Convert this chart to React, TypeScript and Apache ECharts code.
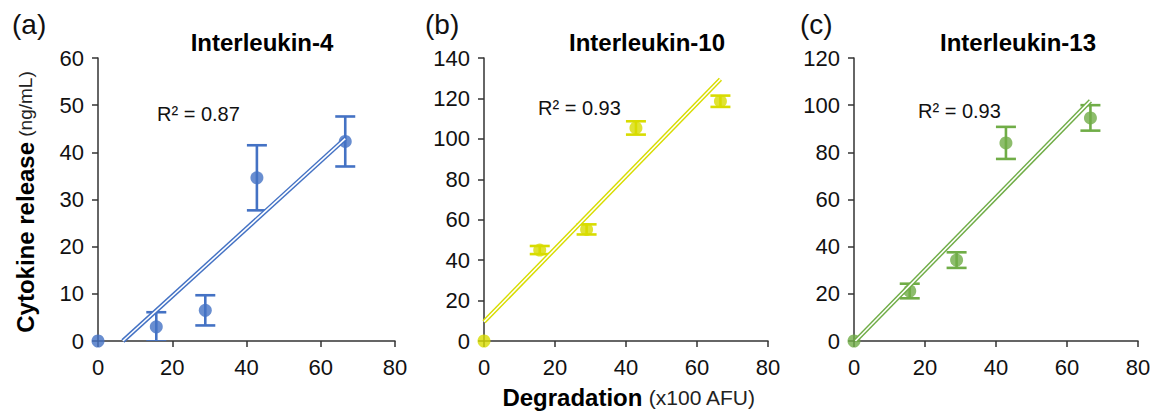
import React, { useEffect, useRef } from "react";
import * as echarts from "echarts";

const degradation = [0, 15.7, 28.9, 42.8, 66.6];

const il4Values = [0, 3.0, 6.5, 34.6, 42.3];
const il4Errors = [0, 3.1, 3.2, 6.9, 5.3];
const il4Trend = [[6.7, 0], [66.6, 42.9]];

const il10Values = [0, 45.0, 55.2, 105.4, 118.6];
const il10Errors = [0, 2.0, 2.5, 3.3, 2.8];
const il10Trend = [[0, 9.5], [66.6, 129.5]];

const il13Values = [0, 21.2, 34.3, 84.0, 94.6];
const il13Errors = [0, 3.1, 3.3, 6.8, 5.4];
const il13Trend = [[0.4, 0], [66.6, 101.8]];

const yMaxes = [60, 140, 120];
const yIntervals = [10, 20, 20];
const xTicks = { min: 0, max: 80, interval: 20 };

const panelTitles = ["Interleukin-4", "Interleukin-10", "Interleukin-13"];
const panelLetters = ["(a)", "(b)", "(c)"];
const r2Labels = ["R² = 0.87", "R² = 0.93", "R² = 0.93"];
const colors = ["#4472C4", "#D8DC00", "#70AD47"];

const FONT = "'Liberation Sans', Arial, sans-serif";
const AXIS_COLOR = "#333333";

export default function App() {
  const ref = useRef<HTMLDivElement>(null);

  useEffect(() => {
    if (!ref.current) return;
    const chart = echarts.init(ref.current, undefined, { renderer: "svg" });

    const grids = [
      { left: 98, top: 58, width: 297, height: 283 },
      { left: 484, top: 58, width: 284, height: 283 },
      { left: 854, top: 58, width: 284, height: 283 },
    ];

    const valuesSets = [il4Values, il10Values, il13Values];
    const errorSets = [il4Errors, il10Errors, il13Errors];
    const trendSets = [il4Trend, il10Trend, il13Trend];

    const xAxes = grids.map((_, i) => ({
      type: "value",
      gridIndex: i,
      min: xTicks.min,
      max: xTicks.max,
      interval: xTicks.interval,
      axisLine: { show: true, onZero: false, lineStyle: { color: AXIS_COLOR, width: 1.5 } },
      axisTick: { show: true, length: 6, lineStyle: { color: AXIS_COLOR, width: 1.5 } },
      axisLabel: { fontSize: 22, color: "#111", fontFamily: FONT, margin: 15 },
      splitLine: { show: false },
    }));

    const yAxes = grids.map((_, i) => ({
      type: "value",
      gridIndex: i,
      min: 0,
      max: yMaxes[i],
      interval: yIntervals[i],
      axisLine: { show: true, onZero: false, lineStyle: { color: AXIS_COLOR, width: 1.5 } },
      axisTick: { show: true, length: 6, lineStyle: { color: AXIS_COLOR, width: 1.5 } },
      axisLabel: { fontSize: 22, color: "#111", fontFamily: FONT, margin: 14 },
      splitLine: { show: false },
    }));

    const series: any[] = [];
    grids.forEach((_, i) => {
      const color = colors[i];
      const pts = degradation.map((x, k) => [x, valuesSets[i][k]]);
      const errs = degradation.map((x, k) => [x, valuesSets[i][k], errorSets[i][k]]);
      series.push({
        type: "custom",
        xAxisIndex: i,
        yAxisIndex: i,
        clip: true,
        z: 2,
        data: errs.filter((d) => d[2] > 0),
        renderItem: (params: any, api: any) => {
          const x = api.value(0);
          const y = api.value(1);
          const e = api.value(2);
          const top = api.coord([x, y + e]);
          const bot = api.coord([x, y - e]);
          const hw = 10;
          const style = { stroke: color, lineWidth: 2.6 };
          return {
            type: "group",
            children: [
              { type: "line", shape: { x1: top[0], y1: top[1], x2: bot[0], y2: bot[1] }, style },
              { type: "line", shape: { x1: top[0] - hw, y1: top[1], x2: top[0] + hw, y2: top[1] }, style },
              { type: "line", shape: { x1: bot[0] - hw, y1: bot[1], x2: bot[0] + hw, y2: bot[1] }, style },
            ],
          };
        },
      });
      series.push({
        type: "scatter",
        xAxisIndex: i,
        yAxisIndex: i,
        symbol: "circle",
        symbolSize: 13,
        itemStyle: { color },
        z: 3,
        data: pts,
      });
      series.push({
        type: "line",
        xAxisIndex: i,
        yAxisIndex: i,
        showSymbol: false,
        symbol: "none",
        lineStyle: { color, width: 4.5 },
        z: 4,
        data: trendSets[i],
      });
      series.push({
        type: "line",
        xAxisIndex: i,
        yAxisIndex: i,
        showSymbol: false,
        symbol: "none",
        lineStyle: { color: "#ffffff", width: 1.6 },
        z: 5,
        data: trendSets[i],
      });
    });

    const titleX = [262, 647, 1018];
    const letterX = [12, 425, 800];
    const r2X = [157, 538, 918];
    const r2Y = [114, 108, 111];

    const graphics: any[] = [];
    grids.forEach((_, i) => {
      graphics.push({
        type: "text",
        x: titleX[i],
        y: 42,
        style: {
          text: panelTitles[i],
          fontSize: 24,
          fontWeight: "bold",
          fontFamily: FONT,
          fill: "#000",
          textAlign: "center",
          textVerticalAlign: "middle",
        },
      });
      graphics.push({
        type: "text",
        x: letterX[i],
        y: 24,
        style: {
          text: panelLetters[i],
          fontSize: 28,
          fontFamily: FONT,
          fill: "#111",
          textAlign: "left",
          textVerticalAlign: "middle",
        },
      });
      graphics.push({
        type: "text",
        x: r2X[i],
        y: r2Y[i],
        style: {
          text: r2Labels[i],
          fontSize: 20,
          fontFamily: FONT,
          fill: "#111",
          textAlign: "left",
          textVerticalAlign: "middle",
        },
      });
    });

    graphics.push({
      type: "text",
      x: 25,
      y: 202,
      rotation: Math.PI / 2,
      style: {
        text: "{b|Cytokine release}{n| (ng/mL)}",
        textAlign: "center",
        textVerticalAlign: "middle",
        rich: {
          b: { fontSize: 24, fontWeight: "bold", fontFamily: FONT, fill: "#000" },
          n: { fontSize: 19, fontFamily: FONT, fill: "#222" },
        },
      },
    });
    graphics.push({
      type: "text",
      x: 629,
      y: 397,
      style: {
        text: "{b|Degradation}{n| (x100 AFU)}",
        textAlign: "center",
        textVerticalAlign: "middle",
        rich: {
          b: { fontSize: 24, fontWeight: "bold", fontFamily: FONT, fill: "#000" },
          n: { fontSize: 21, fontFamily: FONT, fill: "#222" },
        },
      },
    });

    chart.setOption({
      animation: false,
      backgroundColor: "#ffffff",
      grid: grids,
      xAxis: xAxes,
      yAxis: yAxes,
      series,
      graphic: graphics,
    });

    return () => chart.dispose();
  }, []);

  return (
    <div
      ref={ref}
      style={{ position: "fixed", left: 0, top: 0, width: 1165, height: 416 }}
    />
  );
}
